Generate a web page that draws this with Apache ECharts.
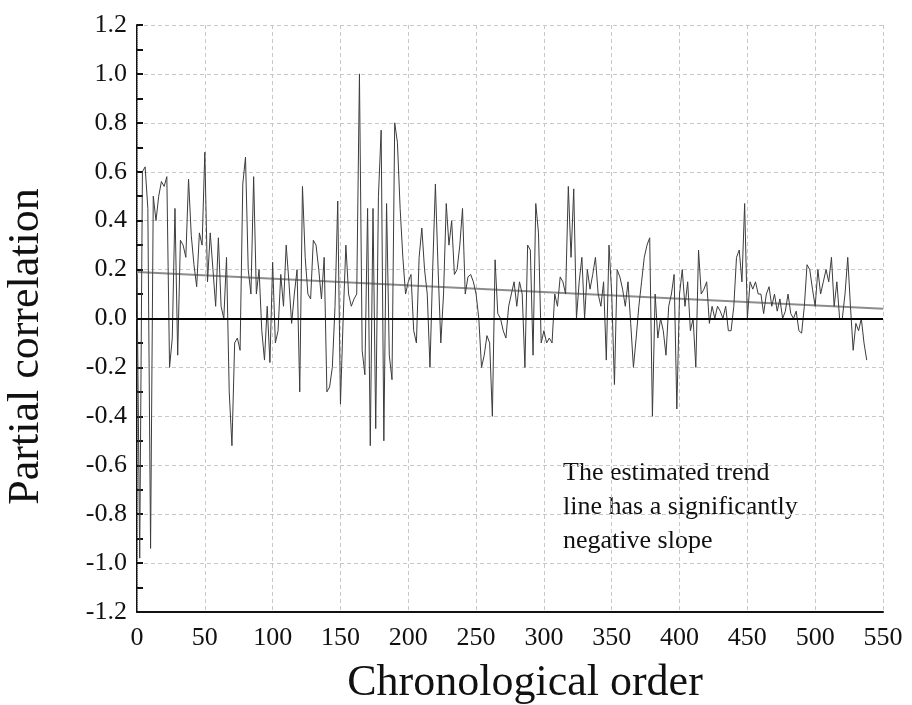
<!DOCTYPE html>
<html>
<head>
<meta charset="utf-8">
<title>Partial correlation</title>
<script src="https://cdn.jsdelivr.net/npm/echarts@6/dist/echarts.min.js"></script>
<style>
    html, body { margin: 0; padding: 0; background: #fff; }
    #main { width: 912px; height: 705px; }
</style>
</head>
<body>
<div id="main"></div>
<script>
// chronological order step between readings
var step = 2;
// partial correlation, one value per 2 positions (0,2,4,...)
var corr = [
    0.18, -0.98, 0.6, 0.62, 0.45, -0.94, 0.5, 0.4, 0.5, 0.56,
    0.54, 0.58, -0.2, -0.08, 0.45, -0.15, 0.32, 0.3, 0.25, 0.57,
    0.34, 0.22, 0.13, 0.35, 0.3, 0.68, 0.15, 0.35, 0.2, 0.05,
    0.33, 0.05, 0.0, 0.25, -0.3, -0.52, -0.1, -0.08, -0.13, 0.55,
    0.66, 0.2, 0.1, 0.58, 0.1, 0.2, -0.05, -0.17, 0.05, -0.18,
    0.23, -0.1, -0.05, 0.18, 0.05, 0.3, 0.15, -0.02, 0.1, 0.2,
    -0.3, 0.54, 0.25, 0.1, 0.08, 0.32, 0.3, 0.2, 0.08, 0.25,
    -0.3, -0.28, -0.2, 0.05, 0.48, -0.35, 0.0, 0.3, 0.1, 0.05,
    0.08, 0.1, 1.0, -0.13, -0.23, 0.45, -0.52, 0.45, -0.45, 0.5,
    0.77, -0.5, 0.47, -0.15, -0.25, 0.8, 0.72, 0.45, 0.25, 0.1,
    0.15, 0.18, -0.05, -0.1, 0.25, 0.37, 0.2, 0.1, -0.2, 0.2,
    0.55, 0.2, -0.1, 0.1, 0.47, 0.3, 0.4, 0.18, 0.2, 0.3,
    0.45, 0.1, 0.17, 0.18, 0.15, 0.1, 0.0, -0.2, -0.15, -0.07,
    -0.1, -0.4, 0.24, 0.02, 0.0, -0.05, -0.08, 0.05, 0.1, 0.15,
    0.05, 0.15, 0.1, -0.2, 0.3, 0.28, -0.15, 0.47, 0.35, -0.1,
    -0.05, -0.1, -0.08, -0.1, 0.1, 0.05, 0.17, 0.15, 0.1, 0.54,
    0.25, 0.53, 0.0, 0.15, 0.25, 0.0, 0.2, 0.12, 0.18, 0.25,
    0.1, 0.05, 0.15, -0.17, 0.3, 0.1, -0.27, 0.2, 0.17, 0.12,
    0.05, 0.15, -0.02, -0.2, -0.08, 0.05, 0.15, 0.25, 0.3, 0.33,
    -0.4, 0.1, -0.08, 0.0, -0.05, -0.15, 0.05, 0.1, 0.18, -0.37,
    0.1, 0.2, 0.05, 0.15, -0.05, 0.0, -0.2, 0.28, 0.1, 0.12,
    0.15, -0.02, 0.05, 0.0, 0.05, 0.03, 0.0, 0.05, -0.05, -0.05,
    0.05, 0.25, 0.28, 0.15, 0.47, 0.0, 0.15, 0.12, 0.15, 0.1,
    0.1, 0.02, 0.1, 0.13, 0.05, 0.1, 0.03, 0.08, 0.0, 0.03,
    0.1, 0.02, 0.0, 0.03, -0.05, -0.06, 0.05, 0.22, 0.2, 0.12,
    0.05, 0.2, 0.1, 0.15, 0.2, 0.15, 0.25, 0.05, 0.15, 0.0,
    0.0, 0.1, 0.25, 0.05, -0.13, -0.02, -0.05, 0.0, -0.1, -0.17
];
// estimated trend line end points
var trendX = [0, 550];
var trendY = [0.19, 0.04];
var noteLines = ['The estimated trend', 'line has a significantly', 'negative slope'];

var serif = '"Liberation Serif", "DejaVu Serif", serif';

var corrData = [];
for (var i = 0; i < corr.length; i++) {
    corrData.push([i * step, corr[i]]);
}
var trendData = [];
for (var j = 0; j < trendX.length; j++) {
    trendData.push([trendX[j], trendY[j]]);
}

var myChart = echarts.init(document.getElementById('main'));

var option = {
    animation: false,
    backgroundColor: '#fff',
    grid: { left: 137, right: 29, top: 25, bottom: 93, containLabel: false, outerBoundsMode: 'none' },
    xAxis: [{
        type: 'value',
        min: 0, max: 550, interval: 50,
        name: 'Chronological order',
        nameLocation: 'middle',
        nameGap: 49,
        nameTextStyle: { fontFamily: serif, fontSize: 44, color: '#111', padding: [0, 0, 0, 30] },
        axisLine: { show: true, onZero: false, lineStyle: { color: '#111', width: 2 } },
        axisTick: { show: false },
        axisLabel: { margin: 13, fontFamily: serif, fontSize: 26, color: '#111' },
        splitLine: { show: true, lineStyle: { color: '#c8c8c8', type: [4, 3] } }
    }, {
        type: 'value', position: 'top',
        min: 0, max: 550, interval: 50,
        axisLine: { show: true, lineStyle: { color: '#999', type: 'dotted' } },
        axisTick: { show: false }, axisLabel: { show: false }, splitLine: { show: false }
    }],
    yAxis: [{
        type: 'value',
        min: -1.2, max: 1.2, interval: 0.2,
        name: 'Partial correlation',
        nameLocation: 'middle',
        nameGap: 89,
        nameTextStyle: { fontFamily: serif, fontSize: 44, color: '#111', padding: [0, 56, 0, 0] },
        axisLine: { show: true, onZero: false, lineStyle: { color: '#111', width: 2 } },
        axisTick: { show: true, inside: true, length: 6, lineStyle: { color: '#111', width: 2 } },
        minorTick: { show: true, splitNumber: 2, length: 6, lineStyle: { color: '#111', width: 2 } },
        axisLabel: {
            margin: 10, fontFamily: serif, fontSize: 26, color: '#111',
            formatter: function (v) { return v.toFixed(1); }
        },
        splitLine: { show: true, lineStyle: { color: '#c8c8c8', type: [4, 3] } }
    }, {
        type: 'value', position: 'right',
        min: -1.2, max: 1.2, interval: 0.2,
        axisLine: { show: true, lineStyle: { color: '#999', type: 'dotted' } },
        axisTick: { show: false }, axisLabel: { show: false }, splitLine: { show: false }
    }],
    series: [{
        // trend line
        type: 'line',
        data: trendData,
        symbol: 'none',
        z: 3,
        lineStyle: { color: '#8c8c8c', width: 2 }
    }, {
        type: 'line',
        data: corrData,
        symbol: 'none',
        z: 4,
        lineStyle: { color: '#3c3c3c', width: 1 },
        markLine: {
            silent: true,
            symbol: 'none',
            label: { show: false },
            lineStyle: { color: '#000', width: 2, type: 'solid' },
            data: [{ yAxis: 0 }]
        }
    }],
    graphic: [{
        type: 'text',
        left: 563,
        top: 456,
        style: {
            text: noteLines.join('\n'),
            font: '26px ' + serif,
            lineHeight: 34,
            fill: '#111'
        }
    }]
};

myChart.setOption(option);
</script>
</body>
</html>
